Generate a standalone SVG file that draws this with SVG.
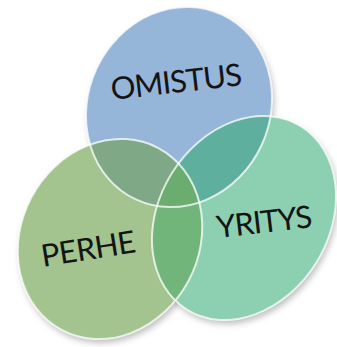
<svg xmlns="http://www.w3.org/2000/svg" xmlns:xlink="http://www.w3.org/1999/xlink" width="337" height="347" viewBox="0 0 337 347">
  <style>
    .label { font-family: "Lato", "Liberation Sans", sans-serif; font-size: 31px; font-weight: 400; fill: #141414; text-anchor: middle; }
    .outline { fill: none; stroke: #ffffff; stroke-width: 2; stroke-opacity: 0.75; }
    .shadow { fill: #000000; fill-opacity: 0.25; filter: url(#soft); }
  </style>
  <defs>
    <filter id="soft" x="-20%" y="-20%" width="140%" height="140%">
      <feGaussianBlur stdDeviation="3"/>
    </filter>
    <!-- the three rings, shared by fills, clips and outlines -->
    <ellipse id="ringBlue" cx="179" cy="107" rx="91" ry="102" transform="rotate(25 179 107)"/>
    <ellipse id="ringTeal" cx="244" cy="218" rx="85" ry="108" transform="rotate(32 244 218)"/>
    <ellipse id="ringOlive" cx="110" cy="239" rx="89" ry="103" transform="rotate(28 110 239)"/>
    <clipPath id="clipBlue"><use xlink:href="#ringBlue"/></clipPath>
    <clipPath id="clipTeal"><use xlink:href="#ringTeal"/></clipPath>
    <clipPath id="clipOlive"><use xlink:href="#ringOlive"/></clipPath>
  </defs>

  <g id="shadows">
    <use xlink:href="#ringBlue" class="shadow" transform="translate(2 4)"/>
    <use xlink:href="#ringTeal" class="shadow" transform="translate(2 4)"/>
    <use xlink:href="#ringOlive" class="shadow" transform="translate(2 4)"/>
  </g>

  <g id="omistus">
    <use xlink:href="#ringBlue" fill="#95b5d9"/>
    <text class="label" x="177.5" y="92.5" textLength="132" lengthAdjust="spacing" transform="rotate(-6.5 177.5 92.5)">OMISTUS</text>
  </g>

  <g id="yritys">
    <use xlink:href="#ringTeal" fill="#8dcfb1"/>
    <text class="label" x="265.5" y="232.5" textLength="96" lengthAdjust="spacing" transform="rotate(-6.6 265.5 232.5)">YRITYS</text>
  </g>

  <g id="perhe">
    <use xlink:href="#ringOlive" fill="#a3c48e"/>
    <text class="label" x="90" y="259.5" textLength="95" lengthAdjust="spacing" transform="rotate(-9 90 259.5)">PERHE</text>
  </g>

  <!-- shared areas where the rings cross -->
  <g id="overlaps">
    <g clip-path="url(#clipBlue)">
      <use xlink:href="#ringTeal" fill="#5faf9e"/>
      <use xlink:href="#ringOlive" fill="#7ea886"/>
    </g>
    <g clip-path="url(#clipTeal)">
      <use xlink:href="#ringOlive" fill="#72b57a"/>
      <g clip-path="url(#clipBlue)">
        <use xlink:href="#ringOlive" fill="#6aad6f"/>
      </g>
    </g>
  </g>

  <!-- white rims drawn over every fill -->
  <g id="outlines">
    <use xlink:href="#ringBlue" class="outline"/>
    <use xlink:href="#ringTeal" class="outline"/>
    <use xlink:href="#ringOlive" class="outline"/>
  </g>
</svg>
